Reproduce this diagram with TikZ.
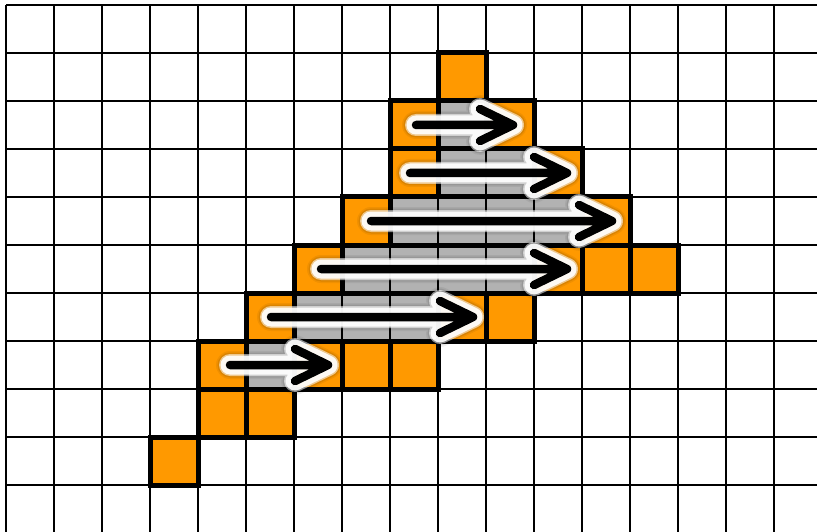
\documentclass[tikz,border=0pt]{standalone}
\usetikzlibrary{calc}
\definecolor{edgeorange}{RGB}{255,153,0}
\definecolor{fillgray}{RGB}{178,178,178}
\begin{document}
\begin{tikzpicture}[x=1pt,y=-1pt,
  gridline/.style={line width=2.3pt,black},
  thickline/.style={line width=5pt,black,line join=miter},
  orangecell/.style={fill=edgeorange},
  graycell/.style={fill=fillgray},
  glow/.style={line cap=round,line join=round},
  haloa/.style={glow,line width=28pt,black,opacity=0.06},
  halob/.style={glow,line width=25pt,black,opacity=0.09},
  haloc/.style={glow,line width=22pt,white,opacity=0.55},
  halod/.style={glow,line width=19pt,white,opacity=0.9},
  arrowcore/.style={glow,line width=8.5pt,black}]
\useasboundingbox (0,0) rectangle (817,532);
\fill[white] (0,0) rectangle (817,532);
% cell fills
\foreach \c/\r in {9/1, 8/2, 10/2, 8/3, 11/3, 7/4, 12/4, 6/5, 11/5, 12/5, 13/5,
                   5/6, 9/6, 10/6, 4/7, 6/7, 7/7, 8/7, 4/8, 5/8, 3/9}
  \fill[orangecell] (6+48*\c, 5+48*\r) rectangle ++(48,48);
\foreach \c/\r in {9/2, 9/3, 10/3, 8/4, 9/4, 10/4, 11/4, 7/5, 8/5, 9/5, 10/5,
                   6/6, 7/6, 8/6, 5/7}
  \fill[graycell] (6+48*\c, 5+48*\r) rectangle ++(48,48);
% thin grid
\foreach \i in {0,...,16}
  \draw[gridline] (6+48*\i, 5) -- (6+48*\i, 532);
\foreach \j in {0,...,10}
  \draw[gridline] (6, 5+48*\j) -- (817, 5+48*\j);
% thick outlines of the scan rows
\foreach \a/\b/\r in {8/10/2, 8/11/3, 7/12/4, 6/13/5, 5/10/6, 4/8/7}
  \draw[thickline] (6+48*\a, 5+48*\r) rectangle (54+48*\b, 53+48*\r);
% thick outlines of the orange cells
\foreach \c/\r in {9/1, 8/2, 10/2, 8/3, 11/3, 7/4, 12/4, 6/5, 11/5, 12/5, 13/5,
                   5/6, 9/6, 10/6, 4/7, 6/7, 7/7, 8/7, 4/8, 5/8, 3/9}
  \draw[thickline] (6+48*\c, 5+48*\r) rectangle ++(48,48);
% arrow end points
\foreach \r/\sx/\tx in {2/416/513, 3/410/567, 4/371/612, 5/321/567, 6/271/473, 7/230/328}{
  \coordinate (s\r) at (\sx, 29+48*\r);
  \coordinate (t\r) at (\tx, 29+48*\r);
}
\foreach \r in {2,...,7}
  \draw[haloa] (s\r) -- (t\r) ($(t\r)+(-33,-16)$) -- (t\r) -- ($(t\r)+(-33,16)$);
\foreach \r in {2,...,7}
  \draw[halob] (s\r) -- (t\r) ($(t\r)+(-33,-16)$) -- (t\r) -- ($(t\r)+(-33,16)$);
\foreach \r in {2,...,7}
  \draw[haloc] (s\r) -- (t\r) ($(t\r)+(-33,-16)$) -- (t\r) -- ($(t\r)+(-33,16)$);
\foreach \r in {2,...,7}
  \draw[halod] (s\r) -- (t\r) ($(t\r)+(-33,-16)$) -- (t\r) -- ($(t\r)+(-33,16)$);
\foreach \r in {2,...,7}
  \draw[arrowcore] (s\r) -- (t\r) ($(t\r)+(-33,-16)$) -- (t\r) -- ($(t\r)+(-33,16)$);
\end{tikzpicture}
\end{document}
